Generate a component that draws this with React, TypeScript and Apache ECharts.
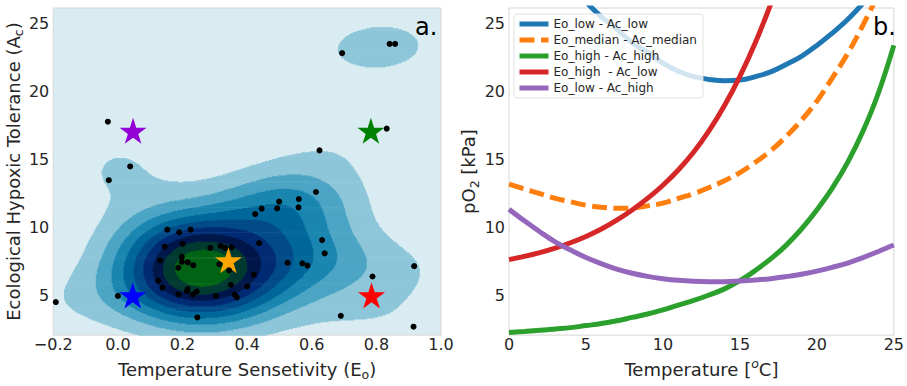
import React, { useEffect, useRef } from 'react';
import * as echarts from 'echarts';

const FONT = 'DejaVu Sans';
const TEXT = '#262626';

// ---------- Panel a data ----------
const tempSensitivity = [
  0.694, 0.841, 0.858, -0.031, 0.832, 0.624, 0.038, -0.028, 0.613, 0.56,
  0.499, 0.559, 0.493, 0.445, 0.425, 0.153, 0.19, 0.225, 0.632, 0.437,
  0.201, 0.145, 0.286, 0.318, 0.332, 0.352, 0.64, 0.198, 0.131, 0.198,
  0.216, 0.525, 0.571, 0.587, 0.233, 0.187, 0.314, 0.344, 0.917, 0.788,
  0.421, 0.125, 0.35, 0.138, 0.4, 0.216, 0.214, 0.244, 0.187, 0.232,
  0.303, 0.361, 0.368, 0.0, -0.192, 0.246, 0.69, 0.915,
];
const hypoxicTolerance = [
  22.83, 23.51, 23.51, 17.79, 17.28, 15.68, 14.5, 13.49, 12.62, 12.1,
  11.92, 11.49, 11.42, 11.4, 11.0, 9.85, 9.66, 9.85, 9.09, 8.86,
  8.81, 8.6, 8.51, 8.65, 8.51, 8.55, 8.11, 7.85, 7.59, 7.49,
  7.45, 7.42, 7.38, 7.21, 7.24, 7.05, 7.31, 6.86, 7.17, 6.41,
  6.55, 6.08, 5.8, 5.59, 5.68, 5.49, 5.33, 5.3, 5.09, 5.09,
  4.98, 5.07, 4.88, 4.98, 4.53, 3.4, 3.52, 2.72,
];
const starSensitivity = [0.047, 0.783, 0.342, 0.046, 0.785];
const starTolerance = [17.12, 17.12, 7.6, 5.02, 5.02];
const starColors = ['#9400d3', '#008000', '#ffa500', '#0000ff', '#ff0000'];

// ---------- Panel b data ----------
const temperature = [0, 1, 2, 3, 4, 5, 6, 7, 8, 9, 10, 11, 12, 13, 14, 15, 16, 17, 18, 19, 20, 21, 22, 23, 24, 25];
const eoLowAcLow = [null, null, null, null, null, 26.6, 25.5, 24.6, 23.6, 22.9, 22.1, 21.5, 21.1, 20.9, 20.8, 20.85, 21.1, 21.45, 22.0, 22.6, 23.4, 24.3, 25.3, 26.5, null, null];
const eoMedianAcMedian = [13.2, 12.85, 12.5, 12.15, 11.9, 11.65, 11.5, 11.42, 11.45, 11.6, 11.8, 12.15, 12.5, 12.95, 13.45, 14.05, 14.8, 15.65, 16.7, 17.9, 19.3, 21.0, 22.8, 24.9, 27.2, null];
const eoHighAcHigh = [2.3, 2.37, 2.45, 2.55, 2.65, 2.8, 2.95, 3.15, 3.4, 3.65, 3.95, 4.3, 4.65, 5.05, 5.5, 6.1, 6.85, 7.7, 8.7, 9.9, 11.3, 12.9, 14.8, 17.1, 19.9, 23.4];
const eoHighAcLow = [7.65, 7.89, 8.17, 8.5, 8.89, 9.35, 9.9, 10.55, 11.3, 12.15, 13.12, 14.24, 15.56, 17.13, 18.98, 21.13, 23.6, 26.42, null, null, null, null, null, null, null, null];
const eoLowAcHigh = [11.35, 10.5, 9.7, 8.95, 8.35, 7.8, 7.35, 6.95, 6.65, 6.42, 6.25, 6.13, 6.06, 6.03, 6.03, 6.08, 6.15, 6.25, 6.4, 6.58, 6.8, 7.08, 7.4, 7.8, 8.25, 8.72];
const curveNames = ['Eo_low - Ac_low', 'Eo_median - Ac_median', 'Eo_high - Ac_high', 'Eo_high  - Ac_low', 'Eo_low - Ac_high'];
const curveColors = ['#1f77b4', '#ff7f0e', '#2ca02c', '#d62728', '#9467bd'];
const curveValues = [eoLowAcLow, eoMedianAcMedian, eoHighAcHigh, eoHighAcLow, eoLowAcHigh];

const yTickValues = [5, 10, 15, 20, 25];

// ---------- layout / style ----------
const A_XMIN = -0.2, A_XMAX = 1.0;
const Y_MIN = 2.1, Y_MAX = 26.15;
const GRID_A = { left: 49, top: 8, width: 392, height: 340 };
const GRID_B = { left: 509, top: 8, width: 390, height: 340 };
const BAND_COLORS = ['#d9ecf2', '#8ec6d9', '#4ca5c4', '#1a86b0', '#00679a', '#004b88', '#002b74', '#00174a', '#003a30', '#006414'];
const LEVEL_FRACS = [0.1, 0.2, 0.3, 0.4, 0.5, 0.6, 0.7, 0.8, 0.9];
const BW_ADJUST_X = 1.2, BW_ADJUST_Y = 1.08;
const STAR = 'path://M50,0L61.2,34.5L97.6,34.5L68.2,55.9L79.4,90.5L50,69.1L20.6,90.5L31.8,55.9L2.4,34.5L38.8,34.5Z';

// Scott bandwidth per axis (1.059 * min(sd, IQR/1.349) * n^-1/5)
function scottBw(v: number[]) {
  const n = v.length;
  const mean = v.reduce((a, b) => a + b, 0) / n;
  const sd = Math.sqrt(v.reduce((a, b) => a + (b - mean) * (b - mean), 0) / (n - 1));
  const s = [...v].sort((a, b) => a - b);
  const q = (p: number) => {
    const h = (n - 1) * p;
    const lo = Math.floor(h);
    return s[lo] + (s[Math.min(lo + 1, n - 1)] - s[lo]) * (h - lo);
  };
  const A = Math.min(sd, (q(0.75) - q(0.25)) / 1.349);
  return 1.059 * A * Math.pow(n, -0.2);
}

function kdeRuns() {
  const W = GRID_A.width, H = GRID_A.height;
  const xs = tempSensitivity, ys = hypoxicTolerance;
  const n = xs.length;
  const bx = scottBw(xs) * BW_ADJUST_X, by = scottBw(ys) * BW_ADJUST_Y;
  const xr = A_XMAX - A_XMIN, yr = Y_MAX - Y_MIN;
  const ex = new Float64Array(W * n);
  for (let c = 0; c < W; c++) {
    const x = A_XMIN + ((c + 0.5) / W) * xr;
    for (let i = 0; i < n; i++) {
      const d = (x - xs[i]) / bx;
      ex[c * n + i] = Math.exp(-0.5 * d * d);
    }
  }
  const ey = new Float64Array(H * n);
  for (let r = 0; r < H; r++) {
    const y = Y_MAX - ((r + 0.5) / H) * yr;
    for (let i = 0; i < n; i++) {
      const d = (y - ys[i]) / by;
      ey[r * n + i] = Math.exp(-0.5 * d * d);
    }
  }
  const dens = new Float64Array(W * H);
  let max = 0;
  for (let r = 0; r < H; r++) {
    for (let c = 0; c < W; c++) {
      let s = 0;
      for (let i = 0; i < n; i++) s += ex[c * n + i] * ey[r * n + i];
      dens[r * W + c] = s;
      if (s > max) max = s;
    }
  }
  const levels = LEVEL_FRACS.map((f) => f * max);
  const bandOf = (d: number) => {
    let k = 0;
    while (k < levels.length && d >= levels[k]) k++;
    return k;
  };
  const runs: number[][] = [];
  for (let r = 0; r < H; r++) {
    const yTop = Y_MAX - (r / H) * yr;
    const yBot = Y_MAX - ((r + 1) / H) * yr;
    let start = 0;
    let band = bandOf(dens[r * W]);
    for (let c = 1; c <= W; c++) {
      const b = c < W ? bandOf(dens[r * W + c]) : -1;
      if (b !== band) {
        if (band > 0) runs.push([A_XMIN + (start / W) * xr, A_XMIN + (c / W) * xr, yTop, yBot, band]);
        start = c;
        band = b;
      }
    }
  }
  return runs;
}

const fmtA = (v: number) => {
  const s = Math.abs(v).toFixed(1);
  return v < -1e-9 ? '\u2212' + s : s;
};

function buildOption() {
  const runs = kdeRuns();
  const axisCommon = {
    axisLine: { show: false },
    axisTick: { show: false },
    splitLine: { show: false },
  };
  const tickStyle = { fontSize: 16, fontFamily: FONT, color: TEXT };
  const nameStyle = (richExtra: any) => ({
    fontSize: 18,
    fontFamily: FONT,
    color: TEXT,
    lineHeight: 24,
    rich: richExtra,
  });
  const sub = { sub: { fontSize: 12.5, fontFamily: FONT, color: TEXT, verticalAlign: 'bottom', lineHeight: 15 } };
  const sup = { sup: { fontSize: 12.5, fontFamily: FONT, color: TEXT, verticalAlign: 'top', lineHeight: 15, fontStyle: 'italic' } };

  return {
    animation: false,
    backgroundColor: '#ffffff',
    grid: [
      { ...GRID_A, show: true, backgroundColor: BAND_COLORS[0], borderColor: '#d6d6d6', borderWidth: 1 },
      { ...GRID_B, show: true, backgroundColor: '#ffffff', borderColor: '#d6d6d6', borderWidth: 1 },
    ],
    xAxis: [
      {
        type: 'value', gridIndex: 0, min: A_XMIN, max: A_XMAX, interval: 0.2,
        ...axisCommon,
        axisLabel: { ...tickStyle, margin: 1, formatter: fmtA, showMinLabel: true, showMaxLabel: true },
        name: 'Temperature Sensetivity (E{sub|o})',
        nameLocation: 'middle', nameGap: 13,
        nameTextStyle: nameStyle(sub),
      },
      {
        type: 'value', gridIndex: 1, min: 0, max: 25, interval: 5,
        ...axisCommon,
        axisLabel: { ...tickStyle, margin: 1, showMinLabel: true, showMaxLabel: true },
        name: 'Temperature [{sup|o}C]',
        nameLocation: 'middle', nameGap: 13,
        nameTextStyle: nameStyle(sup),
      },
    ],
    yAxis: [
      {
        type: 'value', gridIndex: 0, min: Y_MIN, max: Y_MAX,
        ...axisCommon,
        axisTick: { show: false, customValues: yTickValues },
        axisLabel: { ...tickStyle, margin: 4, customValues: yTickValues },
        name: 'Ecological Hypoxic Tolerance (A{sub|c})',
        nameLocation: 'middle', nameGap: 18, nameRotate: 90,
        nameTextStyle: nameStyle(sub),
      },
      {
        type: 'value', gridIndex: 1, min: Y_MIN, max: Y_MAX,
        ...axisCommon,
        axisTick: { show: false, customValues: yTickValues },
        axisLabel: { ...tickStyle, margin: 4, customValues: yTickValues },
        name: 'pO{sub|2} [kPa]',
        nameLocation: 'middle', nameGap: 18, nameRotate: 90,
        nameTextStyle: nameStyle(sub),
      },
    ],
    legend: {
      data: curveNames,
      orient: 'vertical',
      left: 514, top: 14,
      padding: [4, 6, 4, 3],
      itemGap: 4, itemWidth: 29, itemHeight: 14,
      backgroundColor: 'rgba(255,255,255,0.8)',
      borderColor: '#e2e2e2', borderWidth: 1, borderRadius: 3,
      itemStyle: { opacity: 0 },
      lineStyle: { width: 5 },
      textStyle: { fontSize: 12, fontFamily: FONT, color: TEXT },
    },
    graphic: [
      { type: 'text', left: 415, top: 15, style: { text: 'a.', fontSize: 24, fontFamily: FONT, fill: '#000' } },
      { type: 'text', left: 873, top: 15, style: { text: 'b.', fontSize: 24, fontFamily: FONT, fill: '#000' } },
    ],
    series: [
      {
        type: 'custom', name: 'kde', xAxisIndex: 0, yAxisIndex: 0, silent: true,
        encode: { x: [0, 1], y: [2, 3] },
        data: runs,
        renderItem: (_p: any, api: any) => {
          const p0 = api.coord([api.value(0), api.value(2)]);
          const p1 = api.coord([api.value(1), api.value(3)]);
          return {
            type: 'rect',
            shape: { x: p0[0], y: p0[1], width: p1[0] - p0[0] + 0.4, height: p1[1] - p0[1] + 0.7 },
            style: { fill: BAND_COLORS[api.value(4)] },
          };
        },
      },
      {
        type: 'scatter', name: 'stars', xAxisIndex: 0, yAxisIndex: 0, silent: true,
        symbol: STAR, symbolSize: [27, 26],
        data: starSensitivity.map((x, i) => ({ value: [x, starTolerance[i]], itemStyle: { color: starColors[i], opacity: 1 } })),
      },
      {
        type: 'scatter', name: 'species', xAxisIndex: 0, yAxisIndex: 0, silent: true,
        symbol: 'circle', symbolSize: 6, itemStyle: { color: '#000', opacity: 1 },
        data: tempSensitivity.map((x, i) => [x, hypoxicTolerance[i]]),
      },
      ...curveValues.map((vals, k) => ({
        type: 'line', name: curveNames[k], xAxisIndex: 1, yAxisIndex: 1,
        data: temperature.map((t, i) => [t, vals[i]]),
        smooth: 0.4, symbol: 'none', showSymbol: false, clip: true,
        color: curveColors[k],
        lineStyle: { width: 5, color: curveColors[k], type: k === 1 ? [15, 6.5] : 'solid', cap: 'butt' },
      })),
    ],
  };
}

export default function App() {
  const ref = useRef<HTMLDivElement>(null);
  useEffect(() => {
    if (!ref.current) return;
    const chart = echarts.init(ref.current, undefined, { renderer: 'svg' });
    chart.setOption(buildOption() as any);
    return () => chart.dispose();
  }, []);
  return <div ref={ref} style={{ position: 'absolute', left: 0, top: 0, width: 907, height: 386 }} />;
}
